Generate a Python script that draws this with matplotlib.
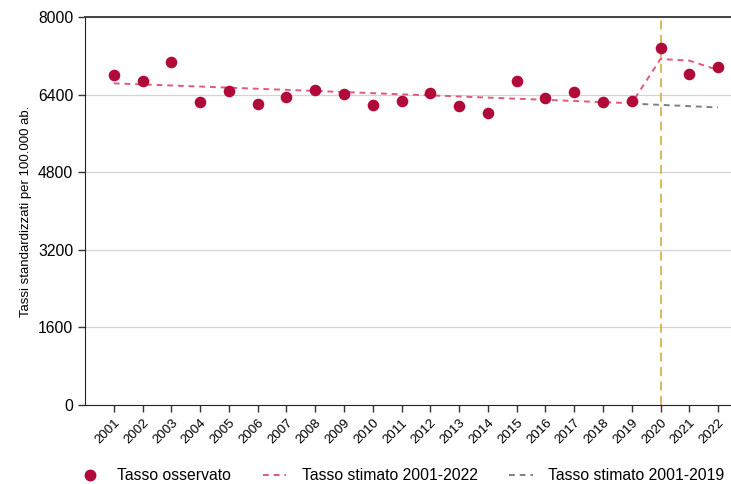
import matplotlib
matplotlib.use("Agg")
import matplotlib.pyplot as plt
from matplotlib.lines import Line2D

plt.rcParams["font.family"] = ["Liberation Sans", "DejaVu Sans"]

anni = list(range(2001, 2023))
osservato = [6798, 6680, 7066, 6247, 6481, 6206, 6357, 6495, 6406, 6192, 6268,
             6440, 6165, 6027, 6680, 6330, 6460, 6247, 6268, 7354, 6818, 6962]
stimato_2022 = [6632, 6610, 6588, 6566, 6543, 6520, 6498, 6475, 6452, 6429, 6406,
                6384, 6361, 6338, 6315, 6292, 6268, 6244, 6222, 7134, 7100, 6907]
anni_2019 = [2019, 2020, 2021, 2022]
stimato_2019 = [6215, 6188, 6162, 6135]
y_ticks = [0, 1600, 3200, 4800, 6400, 8000]

col_oss = "#B10A3A"
col_2022 = "#E05A7C"
col_2019 = "#808080"

fig = plt.figure(figsize=(7.31, 4.84), dpi=100)
ax = fig.add_axes([0.1163, 0.1632, 0.8837, 0.8017])

for t in y_ticks[1:]:
    ax.axhline(t, color="#d4d4d4", lw=0.9, zorder=0)

ax.axvline(2020, color="#D4B44A", lw=1.3, ls=(0, (5, 3)), zorder=1)
ax.plot(anni_2019, stimato_2019, color=col_2019, lw=1.4, ls=(0, (3, 2.5)), zorder=2)
ax.plot(anni, stimato_2022, color=col_2022, lw=1.4, ls=(0, (3, 2.5)), zorder=3)
ax.scatter(anni, osservato, s=70, color=col_oss, zorder=4, linewidths=0)

ax.set_xlim(2000, 2022.45)
ax.set_ylim(0, 8000)
ax.set_xticks(anni)
ax.set_xticklabels([str(a) for a in anni], rotation=45, ha="right",
                   rotation_mode="anchor", fontsize=9.5)
ax.set_yticks(y_ticks)
ax.set_yticklabels([str(t) for t in y_ticks], fontsize=11.3)
ax.tick_params(axis="x", length=5, width=1, color="#333333")
ax.tick_params(axis="y", length=5, width=1, color="#333333")
ax.set_ylabel("Tassi standardizzati per 100.000 ab.", fontsize=9.5)

ax.spines["right"].set_visible(False)
ax.spines["top"].set_color("#444444")
ax.spines["top"].set_linewidth(1.4)
ax.spines["left"].set_color("#222222")
ax.spines["bottom"].set_color("#222222")

handles = [
    Line2D([], [], marker="o", color=col_oss, ls="none", markersize=7.5),
    Line2D([], [], color=col_2022, lw=1.4, ls=(0, (3, 2.5))),
    Line2D([], [], color=col_2019, lw=1.4, ls=(0, (3, 2.5))),
]
labels = ["Tasso osservato", "Tasso stimato 2001-2022", "Tasso stimato 2001-2019"]
fig.legend(handles, labels, loc="center", bbox_to_anchor=(0.549, 0.017), ncol=3,
           frameon=False, fontsize=11.3, handlelength=1.5, handletextpad=1.0,
           columnspacing=2.0)

fig.savefig("out.png", dpi=100)
